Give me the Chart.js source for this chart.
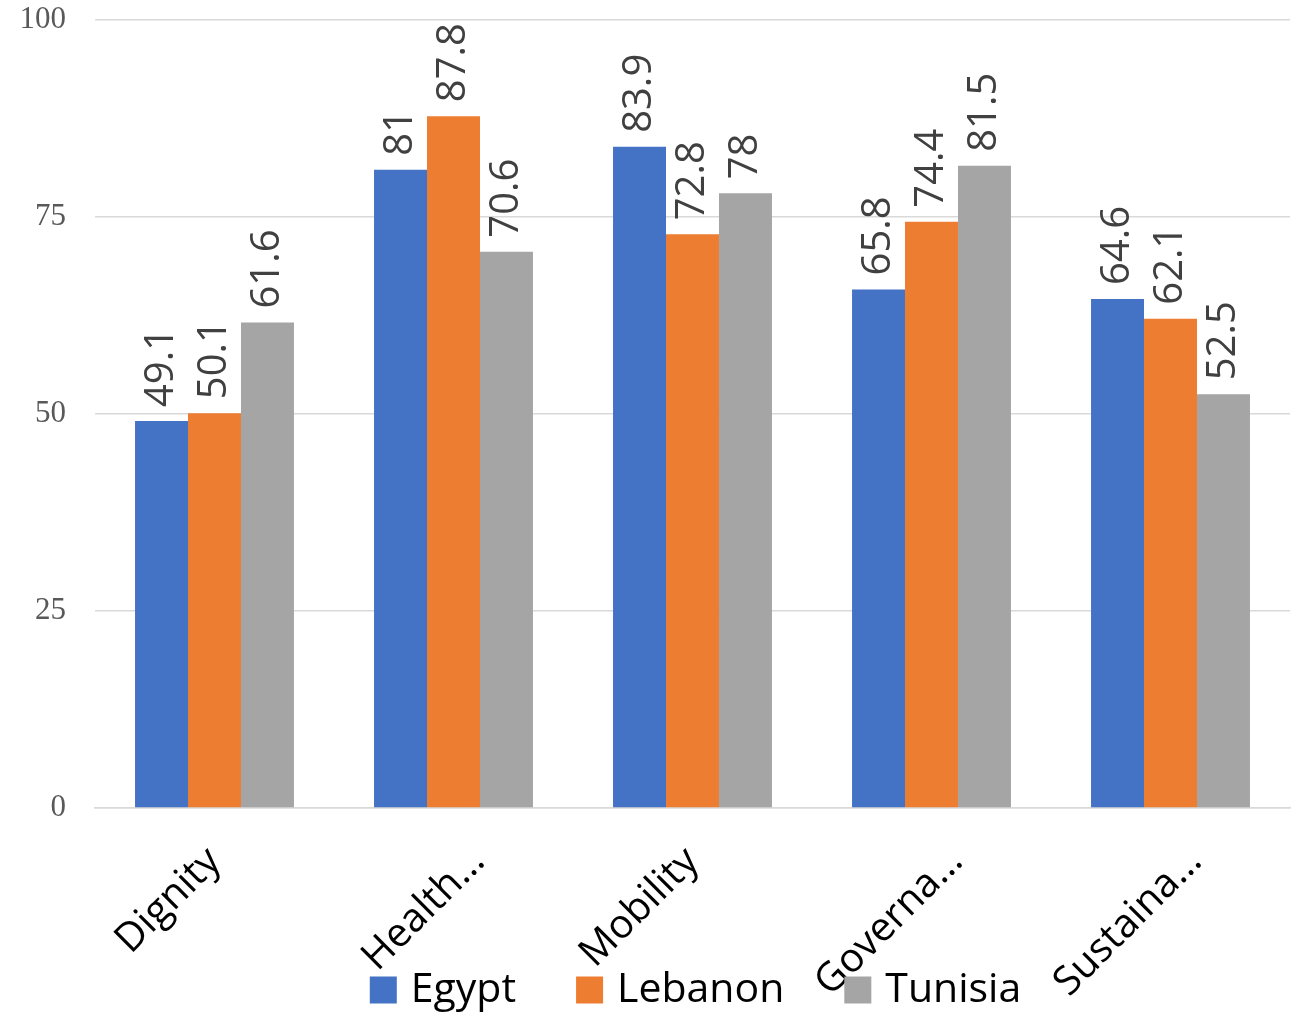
<!DOCTYPE html>
<html>
<head>
<meta charset="utf-8">
<script src="https://cdn.jsdelivr.net/npm/chart.js@4.4.0/dist/chart.umd.min.js"></script>
<style>
  html, body { margin: 0; padding: 0; background: #fff; }
  #chart { display: block; }
</style>
</head>
<body>
<canvas id="chart" width="1304" height="1015"></canvas>
<script>
// chart data
const categories = ['Dignity', 'Health…', 'Mobility', 'Governa…', 'Sustaina…'];
const egypt = [49.1, 81, 83.9, 65.8, 64.6];
const lebanon = [50.1, 87.8, 72.8, 74.4, 62.1];
const tunisia = [61.6, 70.6, 78, 81.5, 52.5];
const yTicks = [0, 25, 50, 75, 100];

const SANS = "'Open Sans', 'Noto Sans', sans-serif";

// value labels, rotated, above each bar
const barLabels = {
    id: 'barLabels',
    afterDatasetsDraw(chart) {
        const ctx = chart.ctx;
        ctx.save();
        ctx.font = '40px ' + SANS;
        ctx.fillStyle = '#404040';
        ctx.textAlign = 'left';
        ctx.textBaseline = 'middle';
        chart.data.datasets.forEach((ds, i) => {
            chart.getDatasetMeta(i).data.forEach((bar, j) => {
                ctx.save();
                ctx.translate(bar.x, bar.y - 14);
                ctx.rotate(-Math.PI / 2);
                ctx.fillText(String(ds.data[j]), 0, 0);
                ctx.restore();
            });
        });
        ctx.restore();
    }
};

// category labels at 45deg; truncated ones sit a bit further right (as excel does)
const xLabels = {
    id: 'xLabels',
    afterDraw(chart) {
        const ctx = chart.ctx;
        const scale = chart.scales.x;
        ctx.save();
        ctx.font = '40px ' + SANS;
        ctx.fillStyle = '#000';
        ctx.textAlign = 'right';
        ctx.textBaseline = 'middle';
        chart.data.labels.forEach((label, i) => {
            const nudge = label.endsWith('…') ? 25 : 0;
            ctx.save();
            ctx.translate(scale.getPixelForTick(i) + nudge, scale.top + 47);
            ctx.rotate(-Math.PI / 4);
            ctx.fillText(label, 0, 0);
            ctx.restore();
        });
        ctx.restore();
    }
};

// legend drawn over the bottom, like the original
const bottomLegend = {
    id: 'bottomLegend',
    afterDraw(chart) {
        const ctx = chart.ctx;
        const box = 27, gap = 14, spacing = 60;
        ctx.save();
        ctx.font = '41px ' + SANS;
        const items = chart.data.datasets.map(ds => ({
            text: ds.label, color: ds.backgroundColor, w: ctx.measureText(ds.label).width
        }));
        const total = items.reduce((s, it) => s + box + gap + it.w, 0) + spacing * (items.length - 1);
        const area = chart.chartArea;
        let x = (area.left + area.right) / 2 - total / 2 + 3;
        const cy = 990;
        ctx.textBaseline = 'middle';
        ctx.textAlign = 'left';
        items.forEach(it => {
            ctx.fillStyle = it.color;
            ctx.fillRect(x, cy - box / 2, box, box);
            ctx.fillStyle = '#000';
            ctx.fillText(it.text, x + box + gap, cy);
            x += box + gap + it.w + spacing;
        });
        ctx.restore();
    }
};

new Chart(document.getElementById('chart'), {
    type: 'bar',
    data: {
        labels: categories,
        datasets: [
            { label: 'Egypt', data: egypt, backgroundColor: '#4472C4' },
            { label: 'Lebanon', data: lebanon, backgroundColor: '#ED7D31' },
            { label: 'Tunisia', data: tunisia, backgroundColor: '#A5A5A5' }
        ]
    },
    options: {
        responsive: false,
        animation: false,
        layout: { padding: { top: 20, right: 14, bottom: 0, left: 0 } },
        datasets: {
            bar: { categoryPercentage: 0.665, barPercentage: 1.0 }
        },
        plugins: {
            legend: { display: false },
            tooltip: { enabled: false }
        },
        scales: {
            x: {
                grid: { display: false },
                border: { color: '#d9d9d9', width: 1.5 },
                ticks: { display: false },
                afterFit(scale) {
                    scale.height = 207;
                    scale.paddingLeft = 0;
                    scale.paddingRight = 0;
                }
            },
            y: {
                min: 0,
                max: 100,
                afterBuildTicks(scale) { scale.ticks = yTicks.map(v => ({ value: v })); },
                grid: { color: '#d9d9d9', lineWidth: 1.5, drawTicks: false },
                border: { display: false },
                ticks: {
                    font: { family: "'Liberation Serif', 'Times New Roman', serif", size: 31 },
                    color: '#595959',
                    padding: 29
                },
                afterFit(scale) {
                    scale.width = 95;
                    scale.paddingTop = 0;
                    scale.paddingBottom = 0;
                }
            }
        }
    },
    plugins: [barLabels, xLabels, bottomLegend]
});
</script>
</body>
</html>
